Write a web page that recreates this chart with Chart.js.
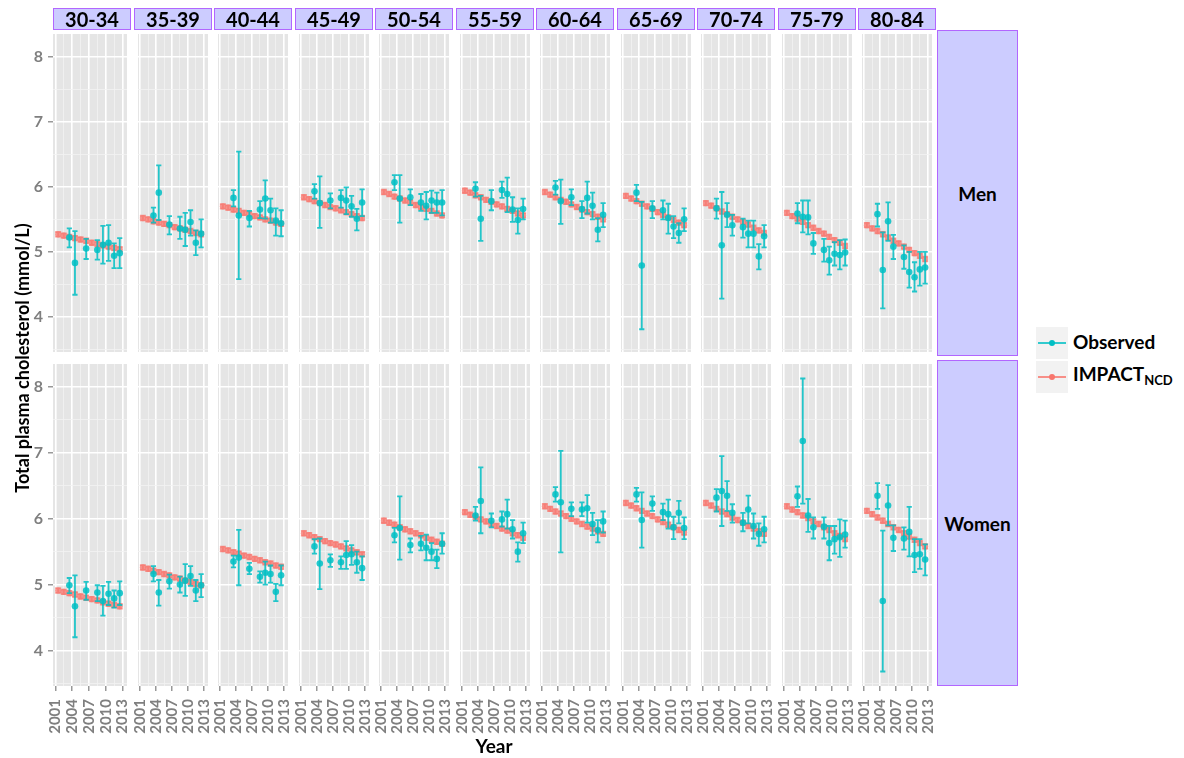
<!DOCTYPE html>
<html><head><meta charset="utf-8">
<script src="https://cdn.jsdelivr.net/npm/chart.js@4.4.1/dist/chart.umd.min.js"></script>
<style>
body{margin:0;background:#fff;width:1184px;height:758px;overflow:hidden;position:relative;font-family:Lato,'Open Sans',sans-serif;}
canvas{position:absolute;}
.strip{position:absolute;background:#ccccff;border:1px solid #b266ff;box-sizing:border-box;display:flex;align-items:center;justify-content:center;font-weight:bold;color:#000;}
.lab{position:absolute;font-weight:bold;color:#000;white-space:nowrap;}
.key{position:absolute;width:32px;height:32px;background:#f2f2f2;}
.key .ln{position:absolute;left:2px;right:2px;top:15px;height:2px;}
.key .pt{position:absolute;left:13px;top:13px;width:6px;height:6px;border-radius:50%;}
</style></head><body>
<script>
// ---------------- data ----------------
const ageGroups = ['30-34','35-39','40-44','45-49','50-54','55-59','60-64','65-69','70-74','75-79','80-84'];
const sexes = ['Men','Women'];
const xTickYears = [2001,2004,2007,2010,2013];
const yTickValues = [4,5,6,7,8];
const impactYears = [2001.5,2002.5,2003.5,2004.5,2005.5,2006.5,2007.5,2008.5,2009.5,2010.5,2011.5,2012.5];
const obsYearsShort = [2003.5,2004.5,2006.5,2008.5,2009.5,2010.5,2011.5,2012.5];
const obsYearsLong = [2003.5,2004.5,2005.5,2006.5,2008.5,2009.5,2010.5,2011.5,2012.5];
const impactHalfWidth = 0.035;

const menImpact = [
 [5.27,5.25,5.23,5.21,5.19,5.17,5.14,5.12,5.10,5.08,5.06,5.04],
 [5.52,5.50,5.47,5.45,5.43,5.41,5.38,5.36,5.34,5.32,5.29,5.27],
 [5.70,5.68,5.65,5.63,5.60,5.58,5.55,5.53,5.50,5.48,5.45,5.43],
 [5.84,5.81,5.78,5.75,5.72,5.69,5.67,5.64,5.61,5.58,5.55,5.52],
 [5.92,5.89,5.85,5.82,5.79,5.76,5.72,5.69,5.66,5.63,5.59,5.56],
 [5.94,5.91,5.87,5.84,5.80,5.77,5.73,5.70,5.66,5.63,5.59,5.56],
 [5.92,5.88,5.84,5.80,5.77,5.73,5.69,5.65,5.61,5.58,5.54,5.50],
 [5.86,5.82,5.78,5.74,5.70,5.66,5.61,5.57,5.53,5.49,5.45,5.41],
 [5.75,5.71,5.67,5.62,5.58,5.54,5.50,5.46,5.42,5.37,5.33,5.29],
 [5.60,5.55,5.51,5.46,5.41,5.37,5.32,5.28,5.23,5.18,5.14,5.09],
 [5.41,5.36,5.32,5.27,5.22,5.17,5.13,5.08,5.03,4.98,4.94,4.89]
];
const womenImpact = [
 [4.91,4.89,4.87,4.85,4.82,4.80,4.78,4.76,4.73,4.71,4.69,4.67],
 [5.26,5.24,5.21,5.19,5.16,5.14,5.11,5.09,5.06,5.04,5.01,4.99],
 [5.54,5.52,5.49,5.47,5.44,5.42,5.39,5.37,5.34,5.32,5.29,5.27],
 [5.78,5.75,5.72,5.69,5.66,5.63,5.61,5.58,5.55,5.52,5.49,5.46],
 [5.97,5.94,5.91,5.87,5.84,5.81,5.78,5.75,5.71,5.68,5.65,5.62],
 [6.10,6.06,6.03,5.99,5.96,5.92,5.89,5.85,5.82,5.78,5.75,5.71],
 [6.19,6.15,6.11,6.08,6.04,6.00,5.96,5.92,5.88,5.85,5.81,5.77],
 [6.24,6.20,6.16,6.12,6.08,6.04,5.99,5.95,5.91,5.87,5.83,5.79],
 [6.24,6.20,6.15,6.11,6.07,6.02,5.98,5.94,5.89,5.85,5.81,5.77],
 [6.19,6.14,6.10,6.05,6.01,5.96,5.92,5.87,5.83,5.78,5.74,5.69],
 [6.12,6.07,6.02,5.97,5.92,5.87,5.83,5.78,5.73,5.68,5.63,5.58]
];

const menObs = [
 [5.22,4.83,5.05,5.03,5.11,5.14,4.94,4.98],
 [5.56,5.91,5.42,5.36,5.34,5.46,5.14,5.28],
 [5.83,5.56,5.52,5.65,5.82,5.64,5.48,5.44],
 [5.93,5.75,5.79,5.83,5.79,5.70,5.51,5.76],
 [6.07,5.82,5.84,5.76,5.71,5.79,5.76,5.76],
 [5.97,5.51,5.78,5.95,5.89,5.65,5.49,5.66],
 [5.99,5.78,5.84,5.66,5.83,5.71,5.34,5.57],
 [5.91,4.79,5.67,5.64,5.52,5.39,5.29,5.50],
 [5.67,5.10,5.57,5.41,5.38,5.28,5.28,4.93,5.24],
 [5.59,5.54,5.53,5.13,5.03,4.87,4.97,4.95,4.99],
 [5.58,4.72,5.47,5.08,4.92,4.69,4.61,4.73,4.76]
];
const menObsLow = [
 [5.07,4.34,4.89,4.88,4.82,4.86,4.75,4.75],
 [5.45,5.49,5.27,5.20,5.09,5.25,4.95,5.07],
 [5.70,4.58,5.39,5.52,5.51,5.45,5.25,5.24],
 [5.82,5.37,5.67,5.68,5.58,5.54,5.33,5.55],
 [5.95,5.45,5.72,5.63,5.50,5.60,5.60,5.56],
 [5.85,5.17,5.64,5.83,5.61,5.46,5.28,5.50],
 [5.88,5.43,5.72,5.52,5.59,5.50,5.16,5.38],
 [5.78,3.81,5.52,5.50,5.28,5.21,5.14,5.32],
 [5.51,4.28,5.38,5.25,5.22,5.07,5.07,4.73,5.07],
 [5.44,5.30,5.27,4.97,4.85,4.65,4.79,4.73,4.79],
 [5.39,4.13,5.17,4.89,4.74,4.45,4.39,4.48,4.51]
];
const menObsHigh = [
 [5.36,5.32,5.20,5.18,5.40,5.41,5.13,5.21],
 [5.68,6.33,5.55,5.54,5.60,5.64,5.33,5.50],
 [5.95,6.54,5.63,5.78,6.10,5.82,5.67,5.64],
 [6.04,6.16,5.90,5.95,5.99,5.86,5.66,5.96],
 [6.18,6.18,5.96,5.89,5.92,5.94,5.91,5.95],
 [6.07,5.86,5.95,6.08,6.14,5.84,5.67,5.82],
 [6.09,6.11,5.96,5.78,6.08,5.91,5.52,5.75],
 [6.03,5.77,5.78,5.79,5.74,5.55,5.44,5.67],
 [5.82,5.92,5.75,5.57,5.51,5.48,5.48,5.12,5.41],
 [5.75,5.79,5.79,5.29,5.20,5.08,5.15,5.18,5.19],
 [5.74,5.30,5.76,5.26,5.10,5.00,4.84,5.00,5.00]
];

const womenObs = [
 [4.99,4.67,4.91,4.88,4.75,4.86,4.79,4.87],
 [5.16,4.88,5.05,5.00,5.06,5.13,4.91,4.99],
 [5.35,5.41,5.24,5.12,5.18,5.16,4.89,5.14],
 [5.58,5.32,5.37,5.34,5.45,5.46,5.34,5.25],
 [5.75,5.86,5.60,5.62,5.56,5.50,5.39,5.62],
 [6.05,6.27,5.97,5.99,6.07,5.84,5.50,5.78],
 [6.37,6.25,6.15,6.14,6.16,5.92,5.83,5.96],
 [6.37,5.98,6.23,6.10,6.07,5.87,6.09,5.86],
 [6.32,6.42,6.35,6.09,5.94,6.14,5.89,5.77,5.84],
 [6.34,7.18,6.05,5.87,5.88,5.63,5.69,5.72,5.76],
 [6.35,4.75,6.20,5.71,5.70,5.80,5.45,5.46,5.38]
];
const womenObsLow = [
 [4.87,4.20,4.77,4.75,4.53,4.69,4.65,4.69],
 [5.05,4.68,4.94,4.88,4.83,4.98,4.75,4.81],
 [5.26,4.99,5.16,5.03,5.00,5.03,4.75,4.99],
 [5.47,4.93,5.27,5.24,5.24,5.30,5.18,5.07],
 [5.64,5.38,5.49,5.52,5.37,5.37,5.25,5.47],
 [5.97,5.78,5.87,5.88,5.85,5.70,5.35,5.63],
 [6.26,5.49,6.04,6.04,5.94,5.75,5.64,5.79],
 [6.26,5.56,6.12,5.98,5.85,5.69,5.93,5.69],
 [6.11,5.89,6.12,5.94,5.81,5.93,5.70,5.59,5.64],
 [6.18,6.23,5.80,5.70,5.70,5.37,5.47,5.42,5.56],
 [6.15,3.68,5.90,5.51,5.53,5.43,5.19,5.24,5.14]
];
const womenObsHigh = [
 [5.10,5.14,5.04,4.99,4.98,5.04,4.91,5.05],
 [5.28,5.07,5.15,5.12,5.31,5.28,5.07,5.16],
 [5.44,5.83,5.33,5.20,5.35,5.29,5.01,5.29],
 [5.69,5.70,5.46,5.43,5.66,5.60,5.50,5.43],
 [5.86,6.34,5.70,5.74,5.76,5.63,5.53,5.78],
 [6.18,6.78,6.08,6.11,6.29,5.98,5.64,5.94],
 [6.48,7.03,6.25,6.25,6.36,6.09,5.98,6.11],
 [6.47,6.40,6.34,6.23,6.29,6.03,6.27,6.02],
 [6.45,6.95,6.57,6.22,6.09,6.35,6.08,5.93,6.03],
 [6.49,8.13,6.30,6.02,6.02,5.89,5.89,5.99,5.97],
 [6.54,5.82,6.51,5.90,5.87,6.18,5.69,5.69,5.61]
];

// ---------------- layout / style ----------------
const X_MIN = 2000.576, X_MAX = 2013.80;
const Y_MIN = 3.46, Y_MAX = 8.35;
const PANEL_W = 78, PANEL_H = 326, PITCH = 80.5, LEFT0 = 53;
const ROW_TOP = [30, 360];
const YAXIS_W = 30, XAXIS_H = 64;
const FONT = 'Lato';
const TEAL = '#00BFC4', SALMON = '#F8766D';

const xGrid = []; for (let v = 2001; v <= 2013; v += 1.5) xGrid.push(v);
const yGrid = []; for (let v = 3.5; v <= 8.0001; v += 0.5) yGrid.push(Math.round(v*10)/10);
const isMajor = c => c.tick && Number.isInteger(c.tick.value);

const panelPlugin = {
  id: 'panel',
  beforeDraw(chart) {
    const {ctx, chartArea: a} = chart;
    ctx.save(); ctx.fillStyle = '#e5e5e5';
    ctx.fillRect(a.left, a.top, a.right - a.left, a.bottom - a.top);
    ctx.restore();
  },
  beforeDatasetDraw(chart, args) {
    const ds = chart.data.datasets[args.index];
    if (!ds.errLow) return;
    const xs = chart.scales.x, ys = chart.scales.y, ctx = chart.ctx, a = chart.chartArea;
    ctx.save();
    ctx.beginPath(); ctx.rect(a.left, a.top, a.right - a.left, a.bottom - a.top); ctx.clip();
    ctx.strokeStyle = ds.errColor; ctx.lineWidth = ds.errWidth;
    ctx.beginPath();
    ds.data.forEach((p, i) => {
      const px = xs.getPixelForValue(p.x);
      const y1 = ys.getPixelForValue(ds.errLow[i]), y2 = ys.getPixelForValue(ds.errHigh[i]);
      const cw = ds.capHalf;
      ctx.moveTo(px, y1); ctx.lineTo(px, y2);
      ctx.moveTo(px - cw, y1); ctx.lineTo(px + cw, y1);
      ctx.moveTo(px - cw, y2); ctx.lineTo(px + cw, y2);
    });
    ctx.stroke();
    ctx.restore();
  }
};

function scales(showY, showX) {
  const tickFont = {family: FONT, weight: 'bold', size: 15};
  return {
    x: {
      type: 'linear', min: X_MIN, max: X_MAX,
      afterBuildTicks: s => { s.ticks = xGrid.map(v => ({value: v})); },
      afterFit: s => { s.height = showX ? XAXIS_H : 0; s.paddingLeft = 0; s.paddingRight = 0; s.paddingTop = 0; s.paddingBottom = 0; },
      border: {display: false},
      grid: {
        color: c => isMajor(c) ? '#ffffff' : '#f2f2f2',
        lineWidth: c => isMajor(c) ? 1.6 : 0.8,
        drawTicks: showX, tickLength: 5, tickWidth: 1.2,
        tickColor: c => isMajor(c) ? '#7f7f7f' : 'rgba(0,0,0,0)'
      },
      ticks: {
        display: showX, autoSkip: false, minRotation: 90, maxRotation: 90, padding: 8,
        color: '#7f7f7f', font: tickFont,
        callback: v => (Number.isInteger(v) && xTickYears.includes(v)) ? String(v) : ''
      }
    },
    y: {
      type: 'linear', min: Y_MIN, max: Y_MAX,
      afterBuildTicks: s => { s.ticks = yGrid.map(v => ({value: v})); },
      afterFit: s => { s.width = showY ? YAXIS_W : 0; s.paddingTop = 0; s.paddingBottom = 0; s.paddingLeft = 0; s.paddingRight = 0; },
      border: {display: false},
      grid: {
        color: c => isMajor(c) ? '#ffffff' : '#f2f2f2',
        lineWidth: c => isMajor(c) ? 1.6 : 0.8,
        drawTicks: showY, tickLength: 5, tickWidth: 1.2,
        tickColor: c => isMajor(c) ? '#7f7f7f' : 'rgba(0,0,0,0)'
      },
      ticks: {
        display: showY, autoSkip: false, padding: 5,
        color: '#7f7f7f', font: {family: FONT, weight: 'bold', size: 16},
        callback: v => yTickValues.includes(v) ? String(v) : ''
      }
    }
  };
}

function addEl(cls, style, html) {
  const d = document.createElement('div');
  d.className = cls; Object.assign(d.style, style); if (html !== undefined) d.innerHTML = html;
  document.body.appendChild(d); return d;
}

const impactBySex = [menImpact, womenImpact];
const obsBySex = [menObs, womenObs], lowBySex = [menObsLow, womenObsLow], highBySex = [menObsHigh, womenObsHigh];

for (let r = 0; r < 2; r++) {
  for (let c = 0; c < ageGroups.length; c++) {
    const left = Math.round(LEFT0 + PITCH * c);
    const showY = c === 0, showX = r === 1;
    const cv = document.createElement('canvas');
    const w = PANEL_W + (showY ? YAXIS_W : 0), h = PANEL_H + (showX ? XAXIS_H : 0);
    cv.width = w; cv.height = h;
    cv.style.left = (left - (showY ? YAXIS_W : 0)) + 'px';
    cv.style.top = ROW_TOP[r] + 'px';
    cv.style.width = w + 'px'; cv.style.height = h + 'px';
    document.body.appendChild(cv);

    const obsVals = obsBySex[r][c];
    const years = obsVals.length === obsYearsLong.length ? obsYearsLong : obsYearsShort;
    const imp = impactBySex[r][c];

    new Chart(cv, {
      type: 'scatter',
      data: {
        datasets: [
          {
            label: 'Observed',
            data: years.map((y, i) => ({x: y, y: obsVals[i]})),
            errLow: lowBySex[r][c], errHigh: highBySex[r][c],
            errColor: 'rgba(0,191,196,0.85)', errWidth: 1.8, capHalf: 2.6,
            pointRadius: 3.3, pointBackgroundColor: 'rgba(0,191,196,0.85)', pointBorderWidth: 0,
            showLine: false
          },
          {
            label: 'IMPACT NCD',
            data: impactYears.map((y, i) => ({x: y, y: imp[i]})),
            errLow: imp.map(v => v - impactHalfWidth), errHigh: imp.map(v => v + impactHalfWidth),
            errColor: 'rgba(248,118,109,0.7)', errWidth: 1.8, capHalf: 3,
            pointRadius: 3.1, pointBackgroundColor: 'rgba(248,118,109,0.75)', pointBorderWidth: 0,
            showLine: false
          }
        ]
      },
      options: {
        responsive: false, animation: false, devicePixelRatio: 1,
        layout: {padding: 0},
        events: [],
        plugins: {legend: {display: false}, tooltip: {enabled: false}},
        scales: scales(showY, showX)
      },
      plugins: [panelPlugin]
    });
  }
}

// top strips
ageGroups.forEach((g, c) => {
  const left = Math.round(LEFT0 + PITCH * c);
  addEl('strip', {left: left + 'px', top: '8px', width: PANEL_W + 'px', height: '22px', fontSize: '20px'}, g);
});
// right strips
sexes.forEach((s, r) => {
  addEl('strip', {left: '937px', top: ROW_TOP[r] + 'px', width: '81px', height: PANEL_H + 'px', fontSize: '19px'}, s);
});
// axis titles
addEl('lab', {left: (22 - 200) + 'px', top: (358 - 12) + 'px', width: '400px', height: '24px', lineHeight: '24px', textAlign: 'center', fontSize: '18px', transform: 'rotate(-90deg)'}, 'Total plasma cholesterol (mmol/L)');
addEl('lab', {left: (494 - 50) + 'px', top: '734px', width: '100px', height: '24px', lineHeight: '24px', textAlign: 'center', fontSize: '19px'}, 'Year');
// legend
const k1 = addEl('key', {left: '1036px', top: '327px'}, '<div class="ln"></div><div class="pt"></div>');
k1.querySelector('.ln').style.background = 'rgba(0,191,196,0.8)'; k1.querySelector('.pt').style.background = TEAL;
const k2 = addEl('key', {left: '1036px', top: '361px'}, '<div class="ln"></div><div class="pt"></div>');
k2.querySelector('.ln').style.background = 'rgba(248,118,109,0.8)'; k2.querySelector('.pt').style.background = SALMON;
addEl('lab', {left: '1073px', top: '330px', fontSize: '19px', lineHeight: '24px'}, 'Observed');
addEl('lab', {left: '1073px', top: '362px', fontSize: '19px', lineHeight: '24px'}, 'IMPACT<span style="font-size:13px;position:relative;top:4px">NCD</span>');
</script>
</body></html>
